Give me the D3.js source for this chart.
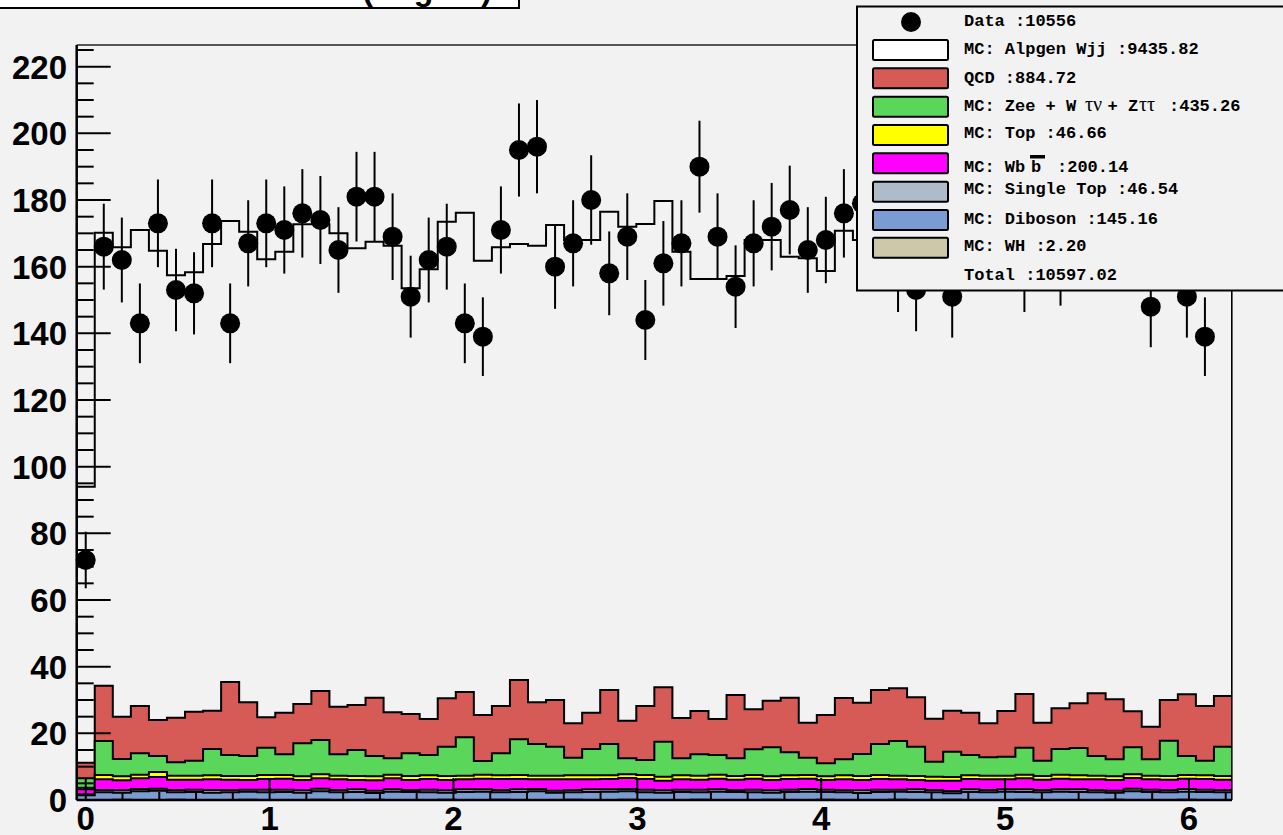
<!DOCTYPE html>
<html><head><meta charset="utf-8">
<script src="https://cdn.jsdelivr.net/npm/d3@7"></script>
<style>html,body{margin:0;padding:0;background:#f2f2f2;overflow:hidden}</style>
</head><body><svg id="c" width="1283" height="835"></svg>
<script>
// ---------------- data ----------------
const nBins = 64;
const xMin = -Math.PI / 64, xMax = 2 * Math.PI - Math.PI / 64;

const dataCounts = [
  72,166,162,143,173,153,152,173,
  143,167,173,171,176,174,165,181,
  181,169,151,162,166,143,139,171,
  195,196,160,167,180,158,169,144,
  161,167,190,169,154,167,172,177,
  165,168,176,179,178,159,153,168,
  151,180,176,167,159,182,161,170,
  178,174,172,148,176,151,139,174];

// cumulative stack heights (top edge of each layer), bin by bin
const wjjTop = [
  94,170.2,165.8,171,164.8,157.4,158.3,166.8,
  173.7,170.5,162.2,164.5,172.7,172.7,170,165.5,
  167.5,166.3,153.5,159.2,173.5,176.2,161.8,165.8,
  166.8,166.3,172.5,168,168,176.5,172,172.8,
  179.7,164.5,156.3,156.3,157.2,168,168,163,
  162.5,158.7,170.8,168,170,166,162,169,
  160,173,169,167,163,174,165,169,
  172,167,164,161,171,166,162,168];
const qcdTop = [
  11.2,34.3,25,28.2,24,24.7,26.5,26.8,
  35.4,29.3,24.8,26.2,28.8,32.7,28,28.5,
  30.7,26.3,25.8,24.3,30.5,32.4,25.5,28.2,
  36,29.3,30,23,26.2,33,23.8,28.2,
  33.8,24.6,26.7,24.3,31.5,27.2,29.8,30.7,
  23.2,25.5,30.6,29.2,33,33.5,30.8,24.4,
  26.8,26.2,23,26.7,31.8,23.2,27.5,29,
  32,30.2,26.6,22,30,31.7,28.2,31.2];
const zeeTop = [
  6.5,17.7,12.3,14,13.2,11.3,11.8,15.3,
  13.5,13.2,15.7,13.7,17,18,13.7,15,
  13.2,12.5,14,13.5,16,18.8,11.7,14,
  18.2,16.8,16,12.7,15.3,16.8,12.5,12,
  17.5,12.5,13.7,13.5,12.5,15.2,15.8,14.3,
  12.7,11,12.2,13.8,16.8,17.7,16,11.5,
  14.5,13.5,12.8,13,15.7,11.8,15.3,15.6,
  13.2,12.2,15.8,12.2,17.8,13.2,11.8,16];
const topTop = [
  3.7,7.5,7.1,7.6,8.4,7.3,7.3,7.4,
  7.2,7.2,7.5,7.5,7.1,7.7,7.3,7.2,
  7.1,7.6,7.2,7.4,7.2,7.3,7.6,7.4,
  7.5,7.3,7.3,7.4,7.4,7.4,7.7,7.5,
  7.0,7.4,7.3,7.6,7.2,7.5,7.1,7.4,
  7.5,7.1,7.4,7.2,7.5,7.3,7.2,7.0,
  6.9,7.4,7.3,7.3,7.6,7.2,7.6,7.4,
  7.3,7.1,7.7,7.3,7.2,7.5,7.4,7.2];
const wbbTop = [
  3.2,6.2,5.9,6.5,6.9,6.1,6.1,6.2,
  6.1,6.0,6.3,6.4,6.0,6.5,6.2,6.0,
  5.9,6.5,6.0,6.3,6.0,6.2,6.4,6.3,
  6.3,6.2,6.2,6.2,6.2,6.3,6.6,6.3,
  5.8,6.2,6.1,6.4,6.1,6.4,6.0,6.3,
  6.4,6.0,6.2,6.0,6.3,6.2,6.0,5.8,
  5.8,6.3,6.2,6.2,6.5,6.1,6.4,6.2,
  6.2,6.0,6.6,6.2,6.1,6.4,6.3,6.1];
const stTop = [
  1.7,3.0,2.9,3.3,3.4,3.0,3.1,3.0,
  3.0,3.1,3.1,3.1,2.9,3.4,3.0,3.2,
  2.8,3.2,3.0,3.1,2.9,3.2,3.2,3.0,
  3.2,3.3,2.8,3.0,3.2,3.2,3.3,3.1,
  2.9,3.1,3.1,3.2,3.0,3.1,2.9,3.1,
  3.3,3.1,3.0,2.9,3.1,3.1,3.2,3.0,
  2.7,3.2,3.0,3.2,3.2,3.0,3.2,3.2,
  3.0,2.8,3.4,3.1,3.0,3.3,3.1,3.0];
const dibTop = [
  1.4,2.3,2.2,2.6,2.8,2.3,2.4,2.2,
  2.3,2.5,2.3,2.4,2.2,2.6,2.3,2.4,
  2.1,2.5,2.4,2.3,2.2,2.4,2.5,2.3,
  2.4,2.6,2.2,2.3,2.4,2.5,2.6,2.3,
  2.2,2.4,2.3,2.5,2.4,2.3,2.2,2.4,
  2.5,2.4,2.3,2.1,2.4,2.5,2.4,2.3,
  2.0,2.4,2.3,2.5,2.4,2.3,2.5,2.4,
  2.3,2.2,2.6,2.4,2.3,2.5,2.4,2.3];
const whTop = [
  0.01,0.03,0.04,0.03,0.03,0.04,0.03,0.03,
  0.03,0.04,0.03,0.03,0.03,0.04,0.03,0.03,
  0.04,0.03,0.03,0.03,0.04,0.03,0.03,0.04,
  0.03,0.03,0.03,0.04,0.03,0.03,0.04,0.03,
  0.03,0.03,0.04,0.03,0.03,0.03,0.04,0.03,
  0.03,0.04,0.03,0.03,0.03,0.04,0.03,0.03,
  0.04,0.03,0.03,0.03,0.04,0.03,0.03,0.03,
  0.03,0.04,0.03,0.03,0.03,0.04,0.03,0.03];

const yMajorTicks = [0,20,40,60,80,100,120,140,160,180,200,220];
const xMajorTicks = [0,1,2,3,4,5,6];

const legendLabels = [
  "Data :10556",
  "MC: Alpgen Wjj :9435.82",
  "QCD :884.72",
  "MC: Zee + W\u03c4\u03bd + Z\u03c4\u03c4 :435.26",
  "MC: Top :46.66",
  "MC: Wbb :200.14",
  "MC: Single Top :46.54",
  "MC: Diboson :145.16",
  "MC: WH :2.20",
  "Total :10597.02"];
const layerColors = ["#ffffff","#d65a55","#5ad65a","#ffff00","#ff00ff","#adbcc8","#7b9bd3","#cdc8aa"];

// ---------------- drawing ----------------
const svg = d3.select("#c");
svg.append("rect").attr("width",1283).attr("height",835).attr("fill","#f2f2f2");

const L = 76.7, R = 1232, T = 45, B = 800;
const x = d3.scaleLinear().domain([xMin, xMax]).range([L, R]);
const y = d3.scaleLinear().domain([0, 226.5]).range([B, T]);
const binW = (xMax - xMin) / nBins;
const edge = i => xMin + i * binW;
const center = i => xMin + (i + 0.5) * binW;

svg.append("clipPath").attr("id","frame").append("rect")
  .attr("x",L).attr("y",T).attr("width",R-L).attr("height",B-T);
const plot = svg.append("g").attr("clip-path","url(#frame)");

const area = d3.area()
  .x(d => x(d.x)).y0(y(0)).y1(d => y(d.v))
  .curve(d3.curveStepAfter);
const stepPts = vals => {
  const pts = vals.map((v,i) => ({x: edge(i), v}));
  pts.push({x: edge(nBins), v: vals[nBins-1]});
  return pts;
};

const layers = [
  {vals: wjjTop, fill: "none"},
  {vals: qcdTop, fill: layerColors[1]},
  {vals: zeeTop, fill: layerColors[2]},
  {vals: topTop, fill: layerColors[3]},
  {vals: wbbTop, fill: layerColors[4]},
  {vals: stTop, fill: layerColors[5]},
  {vals: dibTop, fill: layerColors[6]},
  {vals: whTop, fill: layerColors[7]}];

layers.forEach(l => {
  plot.append("path").attr("d", area(stepPts(l.vals)))
    .attr("fill", l.fill).attr("stroke","#000").attr("stroke-width",2)
    .attr("stroke-linejoin","miter");
});

// frame
svg.append("line").attr("x1",L).attr("x2",R).attr("y1",T).attr("y2",T).attr("stroke","#222").attr("stroke-width",1.5);
svg.append("line").attr("x1",R).attr("x2",R).attr("y1",T).attr("y2",B).attr("stroke","#000").attr("stroke-width",1.2);

// y axis ticks (inside, pointing right)
const yAxisG = svg.append("g");
d3.range(0, 226, 5).forEach(v => {
  const major = v % 20 === 0;
  yAxisG.append("line").attr("x1",L).attr("x2",L + (major ? 34 : 17))
    .attr("y1",y(v)).attr("y2",y(v)).attr("stroke","#000").attr("stroke-width",2);
});
yMajorTicks.forEach(v => {
  yAxisG.append("text").attr("x",67).attr("y",y(v)+12)
    .attr("text-anchor","end").attr("font-family","Liberation Sans, Arial, sans-serif")
    .attr("font-weight","bold").attr("font-size",33).attr("fill","#000").text(v);
});
// x axis ticks (inside, pointing up)
const xAxisG = svg.append("g");
d3.range(0, 6.21, 0.2).forEach(v => {
  const major = Math.abs(v - Math.round(v)) < 1e-6;
  xAxisG.append("line").attr("x1",x(v)).attr("x2",x(v))
    .attr("y1",B).attr("y2",B - (major ? 22 : 8)).attr("stroke","#000").attr("stroke-width",2);
});
xMajorTicks.forEach(v => {
  xAxisG.append("text").attr("x",x(v)).attr("y",830)
    .attr("text-anchor","middle").attr("font-family","Liberation Sans, Arial, sans-serif")
    .attr("font-weight","bold").attr("font-size",33).attr("fill","#000").text(v);
});
svg.append("line").attr("x1",L).attr("x2",L).attr("y1",T).attr("y2",B).attr("stroke","#000").attr("stroke-width",2.5);
svg.append("line").attr("x1",L).attr("x2",R).attr("y1",B).attr("y2",B).attr("stroke","#000").attr("stroke-width",2.5);

// data points with sqrt(N) errors
const dg = svg.append("g");
dataCounts.forEach((n,i) => {
  const e = Math.sqrt(n);
  dg.append("line").attr("x1",x(center(i))).attr("x2",x(center(i)))
    .attr("y1",y(n - e)).attr("y2",y(n + e)).attr("stroke","#000").attr("stroke-width",2);
  dg.append("circle").attr("cx",x(center(i))).attr("cy",y(n)).attr("r",10).attr("fill","#000");
});

// title box (mostly outside the picture)
svg.append("rect").attr("x",-5).attr("y",-40).attr("width",524).attr("height",48)
  .attr("fill","#ffffff").attr("stroke","#000").attr("stroke-width",2);
svg.append("text").attr("x",492).attr("y",0).attr("text-anchor","end")
  .attr("font-family","Liberation Sans, Arial, sans-serif").attr("font-weight","bold")
  .attr("font-size",32).text("Delta Phi (Degree)");

// legend
const lg = svg.append("g");
lg.append("rect").attr("x",857).attr("y",6.5).attr("width",440).attr("height",284)
  .attr("fill","#f2f2f2").attr("stroke","#000").attr("stroke-width",2);
lg.append("circle").attr("cx",911).attr("cy",22).attr("r",10).attr("fill","#000");
const swY = [40,68.3,96.7,125,153.3,181.7,210,237.7];
swY.forEach((sy,k) => {
  lg.append("rect").attr("x",873).attr("y",sy).attr("width",75).attr("height",20)
    .attr("rx",1.5).attr("fill",layerColors[k]).attr("stroke","#000").attr("stroke-width",2);
});
const txtY = [26,54.3,82.7,111,138.3,171.7,194.3,224,251,280];
const mono = "Liberation Mono, DejaVu Sans Mono, monospace";
legendLabels.forEach((t,k) => {
  if (k === 5) {
    lg.append("text").attr("x",964).attr("y",txtY[k]).attr("font-family",mono)
      .attr("font-weight","bold").attr("font-size",17).text("MC: Wb");
    lg.append("text").attr("x",1031).attr("y",txtY[k]).attr("font-family",mono)
      .attr("font-weight","bold").attr("font-size",17).text("b");
    lg.append("rect").attr("x",1030).attr("y",155).attr("width",15).attr("height",3.5).attr("fill","#000");
    lg.append("text").attr("x",1057).attr("y",txtY[k]).attr("font-family",mono)
      .attr("font-weight","bold").attr("font-size",17).text(t.split(" ").slice(-1)[0]);
  } else if (k === 3) {
    const tx = lg.append("text").attr("x",964).attr("y",txtY[k]).attr("font-family",mono)
      .attr("font-weight","bold").attr("font-size",17).attr("xml:space","preserve");
    tx.append("tspan").text("MC: Zee + W");
    tx.append("tspan").attr("x",1085).attr("font-family","Liberation Serif, serif")
      .attr("font-weight","normal").attr("font-size",20).text("\u03c4\u03bd");
    tx.append("tspan").attr("x",1107.5).text("+ Z");
    tx.append("tspan").attr("x",1139).attr("font-family","Liberation Serif, serif")
      .attr("font-weight","normal").attr("font-size",20).text("\u03c4\u03c4");
    tx.append("tspan").attr("x",1169).text(":435.26");
  } else {
    lg.append("text").attr("x",964).attr("y",txtY[k]).attr("font-family",mono)
      .attr("font-weight","bold").attr("font-size",17).attr("xml:space","preserve").text(t);
  }
});
</script></body></html>
